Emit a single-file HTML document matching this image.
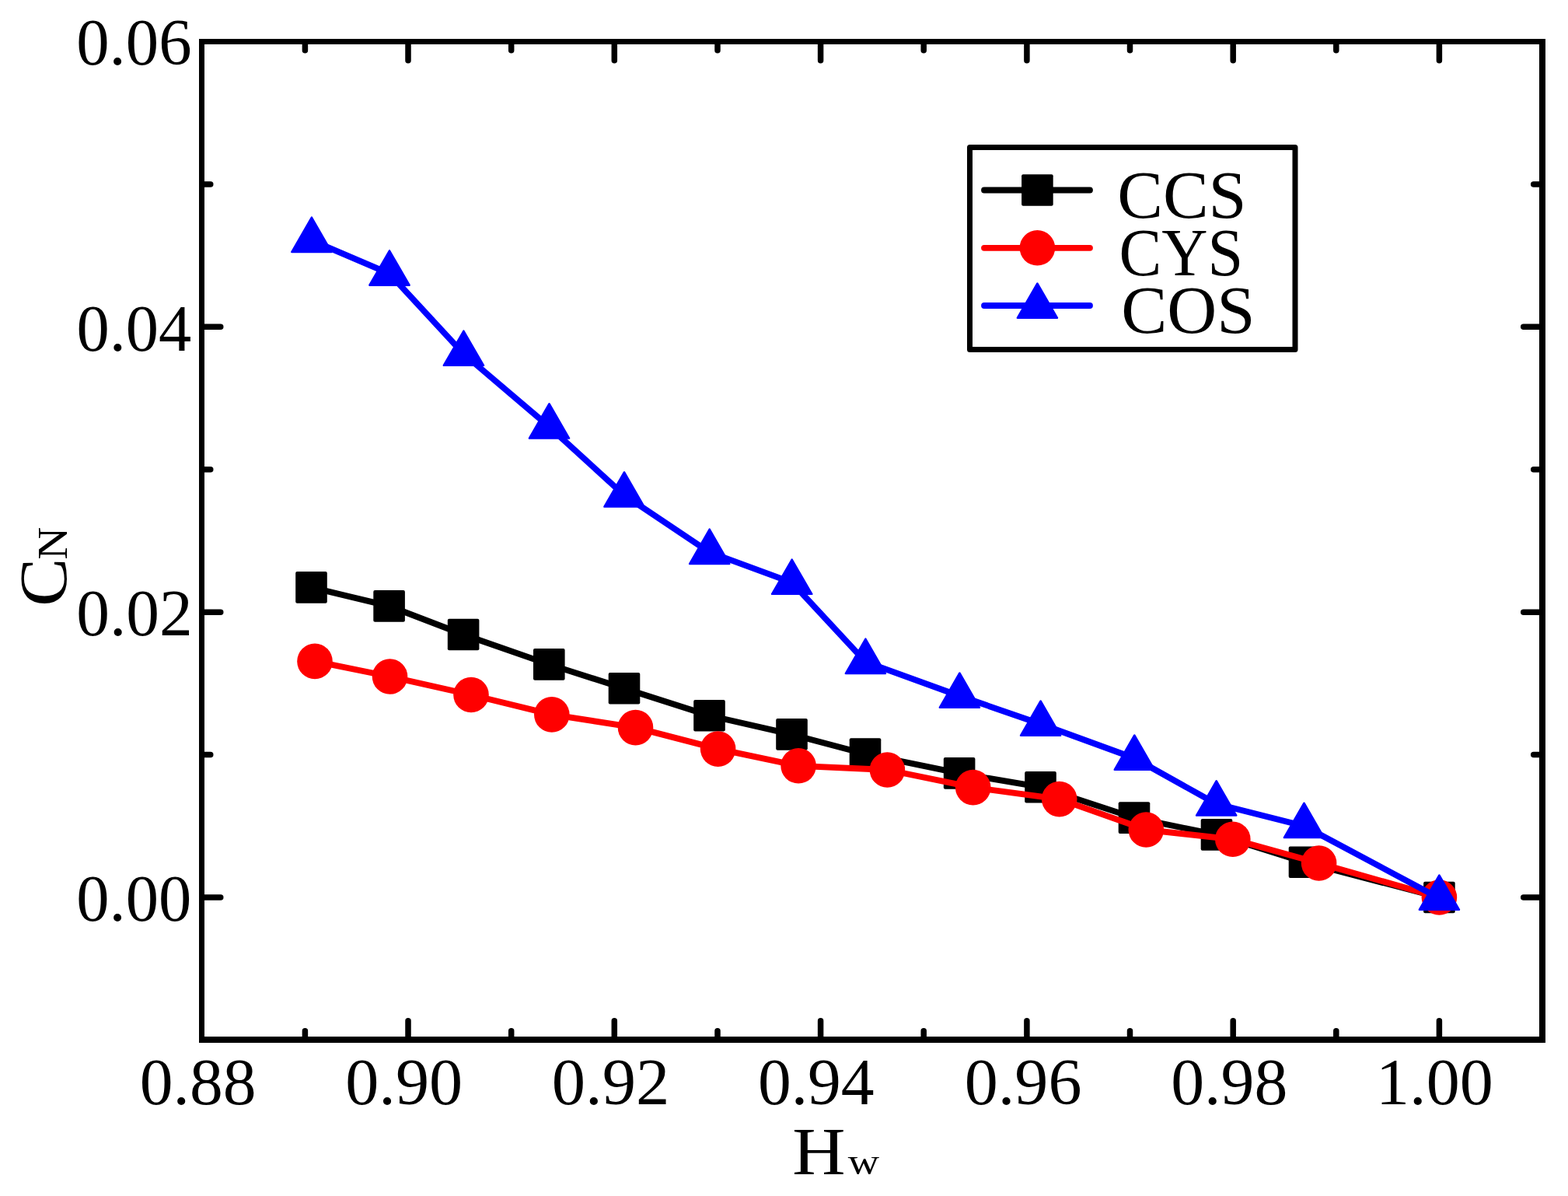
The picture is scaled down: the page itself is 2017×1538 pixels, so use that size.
<!DOCTYPE html><html><head><meta charset="utf-8"><title>CN vs Hw</title><style>
html,body{margin:0;padding:0;background:#fff;overflow:hidden}
svg{display:block}
text{font-family:"Liberation Serif",serif;fill:#000}
</style></head><body>
<svg width="2017" height="1538" viewBox="0 0 2017 1538">
<rect x="0" y="0" width="2017" height="1538" fill="#fff"/>
<polyline points="400.5,755.4 500.6,779.4 596.1,816.0 706.3,854.4 803.0,885.3 912.5,920.3 1018.5,944.4 1113.0,969.5 1234.1,994.4 1338.5,1012.2 1459.0,1051.6 1565.0,1073.4 1678.0,1108.7 1851.4,1154.0" fill="none" stroke="#000" stroke-width="7.8" stroke-linejoin="round"/>
<rect x="380.2" y="735.1" width="40.6" height="40.6" rx="2" fill="#000"/>
<rect x="480.3" y="759.1" width="40.6" height="40.6" rx="2" fill="#000"/>
<rect x="575.8" y="795.7" width="40.6" height="40.6" rx="2" fill="#000"/>
<rect x="686.0" y="834.1" width="40.6" height="40.6" rx="2" fill="#000"/>
<rect x="782.7" y="865.0" width="40.6" height="40.6" rx="2" fill="#000"/>
<rect x="892.2" y="900.0" width="40.6" height="40.6" rx="2" fill="#000"/>
<rect x="998.2" y="924.1" width="40.6" height="40.6" rx="2" fill="#000"/>
<rect x="1092.7" y="949.2" width="40.6" height="40.6" rx="2" fill="#000"/>
<rect x="1213.8" y="974.1" width="40.6" height="40.6" rx="2" fill="#000"/>
<rect x="1318.2" y="991.9" width="40.6" height="40.6" rx="2" fill="#000"/>
<rect x="1438.7" y="1031.3" width="40.6" height="40.6" rx="2" fill="#000"/>
<rect x="1544.7" y="1053.1" width="40.6" height="40.6" rx="2" fill="#000"/>
<rect x="1657.7" y="1088.4" width="40.6" height="40.6" rx="2" fill="#000"/>
<rect x="1831.1" y="1133.7" width="40.6" height="40.6" rx="2" fill="#000"/>
<polyline points="405.0,850.4 501.5,870.0 606.0,893.5 709.8,918.9 817.5,935.6 923.6,963.1 1027.1,984.8 1141.4,990.0 1251.7,1012.6 1362.7,1027.6 1474.3,1067.0 1585.8,1079.3 1696.6,1110.0 1851.4,1154.0" fill="none" stroke="#f00" stroke-width="7.8" stroke-linejoin="round"/>
<circle cx="405.0" cy="850.4" r="22.8" fill="#f00"/>
<circle cx="501.5" cy="870.0" r="22.8" fill="#f00"/>
<circle cx="606.0" cy="893.5" r="22.8" fill="#f00"/>
<circle cx="709.8" cy="918.9" r="22.8" fill="#f00"/>
<circle cx="817.5" cy="935.6" r="22.8" fill="#f00"/>
<circle cx="923.6" cy="963.1" r="22.8" fill="#f00"/>
<circle cx="1027.1" cy="984.8" r="22.8" fill="#f00"/>
<circle cx="1141.4" cy="990.0" r="22.8" fill="#f00"/>
<circle cx="1251.7" cy="1012.6" r="22.8" fill="#f00"/>
<circle cx="1362.7" cy="1027.6" r="22.8" fill="#f00"/>
<circle cx="1474.3" cy="1067.0" r="22.8" fill="#f00"/>
<circle cx="1585.8" cy="1079.3" r="22.8" fill="#f00"/>
<circle cx="1696.6" cy="1110.0" r="22.8" fill="#f00"/>
<circle cx="1851.4" cy="1154.0" r="22.8" fill="#f00"/>
<polyline points="400.9,309.2 501.0,351.9 596.4,455.1 706.5,548.8 803.0,636.8 912.7,710.2 1018.7,749.1 1113.4,851.2 1234.4,895.0 1338.6,931.0 1459.3,975.0 1564.7,1033.8 1677.5,1062.3 1851.4,1155.0" fill="none" stroke="#00f" stroke-width="7.8" stroke-linejoin="round"/>
<polygon points="400.90,279.62 375.28,323.99 426.52,323.99" fill="#00f" stroke="#00f" stroke-width="2.4" stroke-linejoin="round"/>
<polygon points="501.00,322.32 475.38,366.69 526.62,366.69" fill="#00f" stroke="#00f" stroke-width="2.4" stroke-linejoin="round"/>
<polygon points="596.40,425.52 570.78,469.89 622.02,469.89" fill="#00f" stroke="#00f" stroke-width="2.4" stroke-linejoin="round"/>
<polygon points="706.50,519.22 680.88,563.59 732.12,563.59" fill="#00f" stroke="#00f" stroke-width="2.4" stroke-linejoin="round"/>
<polygon points="803.00,607.22 777.38,651.59 828.62,651.59" fill="#00f" stroke="#00f" stroke-width="2.4" stroke-linejoin="round"/>
<polygon points="912.70,680.62 887.08,724.99 938.32,724.99" fill="#00f" stroke="#00f" stroke-width="2.4" stroke-linejoin="round"/>
<polygon points="1018.70,719.52 993.08,763.89 1044.32,763.89" fill="#00f" stroke="#00f" stroke-width="2.4" stroke-linejoin="round"/>
<polygon points="1113.40,821.62 1087.78,865.99 1139.02,865.99" fill="#00f" stroke="#00f" stroke-width="2.4" stroke-linejoin="round"/>
<polygon points="1234.40,865.42 1208.78,909.79 1260.02,909.79" fill="#00f" stroke="#00f" stroke-width="2.4" stroke-linejoin="round"/>
<polygon points="1338.60,901.42 1312.98,945.79 1364.22,945.79" fill="#00f" stroke="#00f" stroke-width="2.4" stroke-linejoin="round"/>
<polygon points="1459.30,945.42 1433.68,989.79 1484.92,989.79" fill="#00f" stroke="#00f" stroke-width="2.4" stroke-linejoin="round"/>
<polygon points="1564.70,1004.22 1539.08,1048.59 1590.32,1048.59" fill="#00f" stroke="#00f" stroke-width="2.4" stroke-linejoin="round"/>
<polygon points="1677.50,1032.72 1651.88,1077.09 1703.12,1077.09" fill="#00f" stroke="#00f" stroke-width="2.4" stroke-linejoin="round"/>
<polygon points="1851.40,1125.42 1825.78,1169.79 1877.02,1169.79" fill="#00f" stroke="#00f" stroke-width="2.4" stroke-linejoin="round"/>
<rect x="256" y="50" width="7" height="1291" fill="#000"/>
<rect x="1980" y="50" width="8" height="1291" fill="#000"/>
<rect x="256" y="50" width="1732" height="7" fill="#000"/>
<rect x="256" y="1333" width="1732" height="8" fill="#000"/>
<path d="M392.4 1333.25V1325.75M392.4 57.25V64.75M525.0 1333.25V1312.75M525.0 57.25V77.75M657.7 1333.25V1325.75M657.7 57.25V64.75M790.3 1333.25V1312.75M790.3 57.25V77.75M923.0 1333.25V1325.75M923.0 57.25V64.75M1055.6 1333.25V1312.75M1055.6 57.25V77.75M1188.2 1333.25V1325.75M1188.2 57.25V64.75M1320.9 1333.25V1312.75M1320.9 57.25V77.75M1453.5 1333.25V1325.75M1453.5 57.25V64.75M1586.2 1333.25V1312.75M1586.2 57.25V77.75M1718.8 1333.25V1325.75M1718.8 57.25V64.75M1851.4 1333.25V1312.75M1851.4 57.25V77.75M263.25 1154.0H283.75M1980.25 1154.0H1959.75M263.25 970.6H270.75M1980.25 970.6H1972.75M263.25 787.2H283.75M1980.25 787.2H1959.75M263.25 603.8H270.75M1980.25 603.8H1972.75M263.25 420.3H283.75M1980.25 420.3H1959.75M263.25 236.9H270.75M1980.25 236.9H1972.75" stroke="#000" stroke-width="7.5" stroke-linecap="round" fill="none"/>
<text transform="translate(98.21,82.64) scale(1.0101,1)" font-size="83.97">0.06</text>
<text transform="translate(98.42,450.64) scale(1.0086,1)" font-size="83.82">0.04</text>
<text transform="translate(98.18,816.54) scale(1.0193,1)" font-size="83.82">0.02</text>
<text transform="translate(98.21,1183.74) scale(1.0066,1)" font-size="84.12">0.00</text>
<text transform="translate(179.77,1420.22) scale(1.0039,1)" font-size="85.29">0.88</text>
<text transform="translate(444.25,1420.22) scale(1.0109,1)" font-size="85.29">0.90</text>
<text transform="translate(709.73,1420.22) scale(1.0159,1)" font-size="85.29">0.92</text>
<text transform="translate(974.88,1420.22) scale(1.0036,1)" font-size="85.29">0.94</text>
<text transform="translate(1240.75,1420.22) scale(1.0098,1)" font-size="85.29">0.96</text>
<text transform="translate(1506.17,1420.13) scale(1.0130,1)" font-size="84.71">0.98</text>
<text transform="translate(1770.05,1420.13) scale(1.0166,1)" font-size="84.71">1.00</text>
<text transform="translate(1019.26,1510.10) scale(1.1004,1)" font-size="85.95">H</text>
<text transform="translate(1090.80,1509.51) scale(1.1288,1)" font-size="49.46">w</text>
<g transform="translate(86,776) rotate(-90)">
<text transform="translate(-3.73,-0.87) scale(1.0724,1)" font-size="86.87">C</text>
<text transform="translate(56.25,0.00) scale(1.0749,1)" font-size="54.15">N</text>
</g>
<rect x="1247.5" y="189.5" width="418.5" height="260" fill="#fff" stroke="#000" stroke-width="7" stroke-linejoin="round"/>
<line x1="1266" y1="244.5" x2="1402" y2="244.5" stroke="#000" stroke-width="7.8" stroke-linecap="round"/>
<line x1="1266" y1="318.8" x2="1402" y2="318.8" stroke="#f00" stroke-width="7.8" stroke-linecap="round"/>
<line x1="1266" y1="393.0" x2="1402" y2="393.0" stroke="#00f" stroke-width="7.8" stroke-linecap="round"/>
<rect x="1314.1" y="224.2" width="40.6" height="40.6" rx="2" fill="#000"/>
<circle cx="1334.4" cy="318.8" r="22.8" fill="#f00"/>
<polygon points="1334.40,364.42 1308.78,408.79 1360.02,408.79" fill="#00f" stroke="#00f" stroke-width="2.4" stroke-linejoin="round"/>
<text transform="translate(1437.18,280.23) scale(1.0101,1)" font-size="87.16">CCS</text>
<text transform="translate(1439.42,354.23) scale(0.9414,1)" font-size="87.16">CYS</text>
<text transform="translate(1442.16,428.03) scale(1.0202,1)" font-size="86.87">COS</text>
</svg></body></html>
